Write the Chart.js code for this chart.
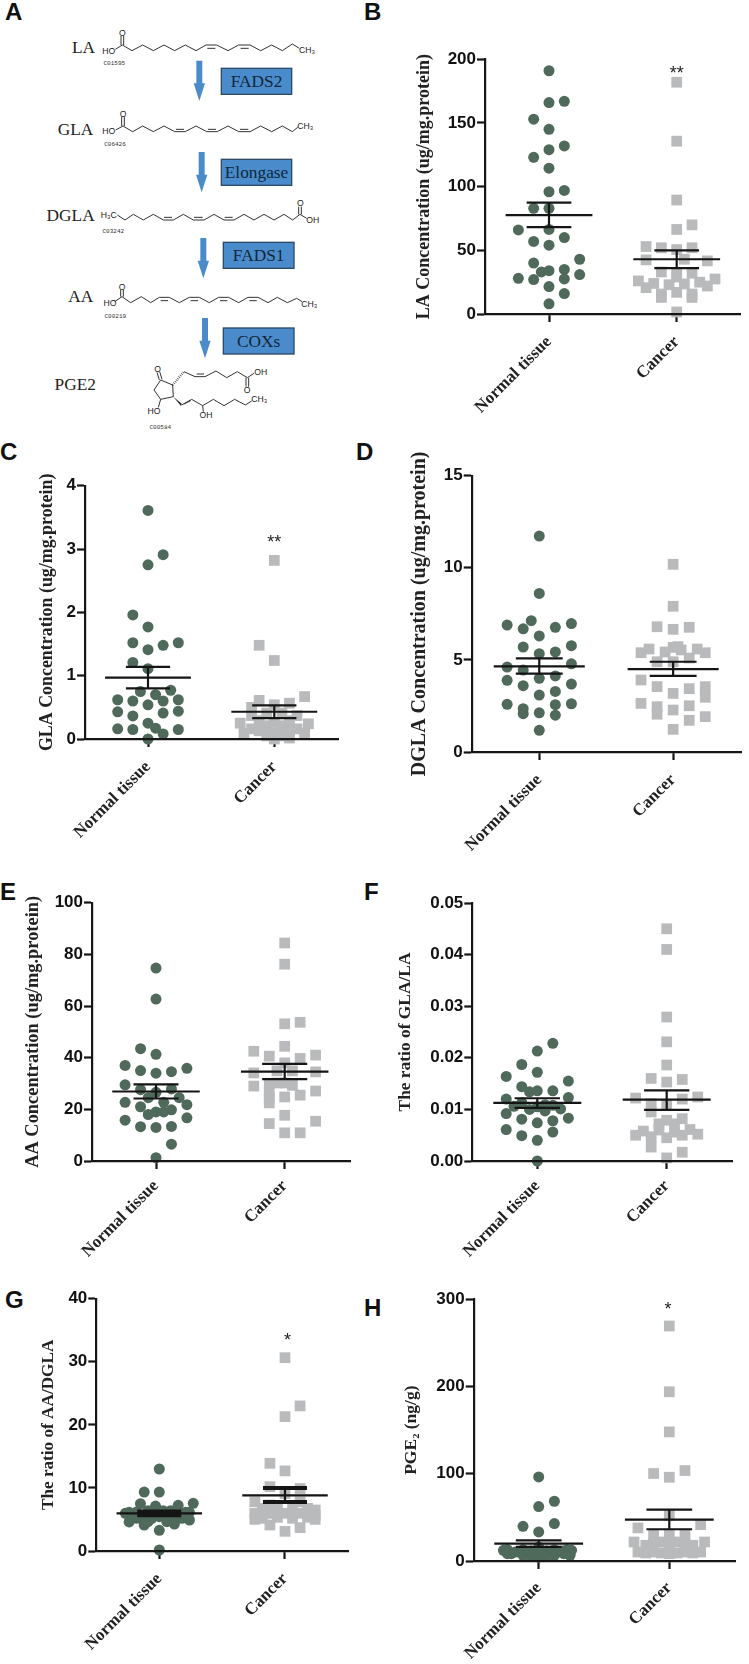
<!DOCTYPE html>
<html><head><meta charset="utf-8">
<script src="https://cdn.jsdelivr.net/npm/chart.js@4"></script>
<style>
html,body{margin:0;padding:0;background:#fff;width:749px;height:1664px;overflow:hidden}
canvas{position:absolute;display:block}
.letter{position:absolute;font:bold 24px "Liberation Sans",Arial,sans-serif;color:#111;line-height:24px}
svg{position:absolute;left:0;top:0;opacity:.995}
</style></head><body>
<svg id="pathway" width="360" height="440" viewBox="0 0 1080 1320"></svg>
<div class="letter" style="left:5px;top:0px">A</div>
<div class="letter" style="left:364px;top:0px">B</div>
<div class="letter" style="left:0px;top:440px">C</div>
<div class="letter" style="left:356px;top:440px">D</div>
<div class="letter" style="left:0px;top:880px">E</div>
<div class="letter" style="left:364px;top:880px">F</div>
<div class="letter" style="left:5px;top:1288px">G</div>
<div class="letter" style="left:364px;top:1296px">H</div>
<script>
const groupLabels = ['Normal tissue', 'Cancer'];

// B: LA
const laNormal = [191,166,167,153,145,132,129,123,114.5,96,97,83,83,66,66.4,60,57,54,43,40,33,34,35,31,28,27,27.5,21.5,16,8];
const laNormalSlot = [0,0,1,-1,0,1,0,-1,0,0,1,-1,0,-2,0,1,-1,0,2,-1,-.5,0,1,2,-2,-1,1,0,1,0];
const laCancer = [182,135.7,89.5,70,66.4,53,52,50.6,52,42.5,43,41.7,33,31.5,32,29,26,24,23,23.6,25,27.5,20.7,22,15.7,17,13,13,15.7,1.6];
const laCancerSlot = [0,0,0,1,0,-2,-1,0,1,-2,.5,2,-1,0,1,0,-2.5,-1.5,-.5,.5,1.5,2.5,-2,2,-1,0,-1,1,1,0];
const laMean = [77.7,43], laHigh = [87.4,50], laLow = [68.2,36];
const laTicks = [0,50,100,150,200];

// C: GLA
const glaNormal = [3.61,2.91,2.75,1.96,1.77,1.52,1.52,1.48,1.41,1.21,1.11,.75,.77,.70,.62,.60,.60,.62,.54,.43,.44,.41,.365,.25,.17,.16,.15,.15,.08,0];
const glaNormalSlot = [0,1,0,-1,0,-1,2,1,0,-1,0,-.5,1.5,.5,-2,-1,1,2,0,-2,2,1,-1,0,.5,-2,-1,2,1,0];
const glaCancer = [2.82,1.48,1.24,.67,.61,.54,.565,.50,.25,.24,.41,.41,.37,.37,.29,.29,.26,.21,.21,.09,.09,.16,.16,.13,.13,.09,.05,.05,.015,0];
const glaCancerSlot = [0,-1,0,2,-1,0,1,-1.5,-2.25,2.25,-.5,.5,-1.5,1.5,-1,1,0,-.5,.5,-2,2,-1.5,1.5,-1,1,0,-.5,.5,1,0];
const glaMean = [.97,.43], glaHigh = [1.14,.53], glaLow = [.80,.33];
const glaTicks = [0,1,2,3,4];

// D: DGLA
const dglaNormal = [11.72,8.61,7.13,6.89,6.97,6.69,6.77,6.30,5.70,5.77,5.34,5.43,4.79,4.61,4.45,4.0,4.13,3.89,3.6,3.69,3.29,3.09,2.59,2.62,2.57,2.35,2.08,2.13,2.0,1.18];
const dglaNormalSlot = [0,0,-.5,-2,2,-1,1,0,-1,2,0,1,2,-2,-1,0,1,-2,-1,2,1,0,-2,2,1,-1,-1,0,1,0];
const dglaCancer = [10.19,7.91,6.8,6.77,6.66,5.59,5.39,5.43,5.68,5.72,5.54,5.59,5.39,5.1,4.9,4.9,3.91,3.55,3.44,3.18,3.55,2.97,2.64,2.51,2.46,2.28,2.05,1.92,1.72,1.23];
const dglaCancerSlot = [0,0,-1,1,0,-1.5,-2,-.5,0,.3,.5,1.5,2,1,-1,0,-2,-1,1,0,2,2,-2,1,-1,0,-1,2,1,0];
const dglaMean = [4.65,4.5], dglaHigh = [5.08,4.9], dglaLow = [4.25,4.13];
const dglaTicks = [0,5,10,15];

// E: AA
const aaNormal = [74.7,62.7,43.5,41.3,37,35.9,35,34.6,34,29.5,27.6,27.9,26.6,24.5,24.5,22.7,22.7,21.8,21,19.8,19,19,18,15.8,16.7,13.3,13,13.4,6.5,1.3];
const aaNormalSlot = [0,0,-1,0,-2,2,-1,1,0,-2,-1,1,0,-.5,1.5,-2,.5,2,-1,1,0,.5,-.5,-2,2,-1,0,1,1,0];
const aaCancer = [84.4,76.2,53.1,53.7,44.4,42.5,41,40.6,39.7,38,34.1,34.5,34.9,34.9,29,30,30.2,30.2,29.3,27.1,26.7,25.5,24.8,24.5,22.5,17.7,14.5,15.4,10.9,10.9];
const aaCancerSlot = [0,0,0,1,0,-2,2,-1,1,0,-2,2,-.5,.5,-2,-1,0,-.5,.5,2,-1,1,0,-1,-1,0,-1,2,0,1];
const aaMean = [26.9,34.6], aaHigh = [29.7,37.6], aaLow = [24.2,31.7];
const aaTicks = [0,20,40,60,80,100];

// F: GLA/LA
const ratioGlaNormal = [.0228,.0213,.0187,.0172,.0164,.0155,.0144,.0134,.0136,.0136,.0123,.012,.0113,.0109,.0108,.0106,.0105,.01,.0097,.0101,.0092,.0081,.0083,.0078,.0074,.0061,.0056,.0049,.004,0];
const ratioGlaNormalSlot = [1,0,-1,0,-2,2,-1,-.5,0,1,2,-2,-1,.5,1,-1.5,0,-.5,.5,1.5,-2,-1,2,1,0,-2,1,-1,0,0];
const ratioGlaCancer = [.045,.041,.0279,.0231,.0186,.016,.0158,.0153,.0122,.0124,.0111,.012,.0108,.0095,.0082,.0079,.0072,.0072,.0058,.006,.0061,.005,.0052,.0047,.0045,.005,.0056,.0027,.0017,.0006];
const ratioGlaCancerSlot = [0,0,0,0,0,-1,1,0,-2,2,-1,1,0,-1,1,0,-.5,.5,-1.5,-.5,1.5,-2,2,-1,0,1,.5,-1,1,0];
const ratioGlaMean = [.01125,.0119], ratioGlaHigh = [.01216,.0137], ratioGlaLow = [.01028,.0099];
const ratioGlaTicks = [0,.01,.02,.03,.04,.05];

// G: AA/DGLA
const ratioAaNormal = [13,9.35,9.35,7.56,7.5,7.24,7.13,6.13,6.2,6.4,6.4,6.4,6.13,6.13,4.6,4.12,4.91,4.28,5.18,5.18,5.18,5.18,5.44,5.44,5.44,3.28,.16,5.97,4.65,4.65];
const ratioAaNormalSlot = [0,-1,0,2.25,-1.25,1.25,-.25,-2,-1.5,-.75,.25,.75,1.75,2,-2,-1,2,1,-1.5,-.5,.5,1.5,0,-1,1,0,0,-2.25,-.75,.5];
const ratioAaCancer = [30.65,23,21.3,13.9,12.7,10.2,9.9,9.1,7.8,7.3,7.8,6.76,6.76,6.76,6.76,6.5,5.97,5.97,5.97,5.97,5.7,5.18,5.34,5.18,5.34,5.02,5.02,4.12,3.7,3.12];
const ratioAaCancerSlot = [0,1,0,-1,0,-1,1,0,-2,-1,1,-1.5,-.5,.5,1.5,2,-2,-1,0,1,2,-1.5,-.5,.5,1.5,-2,2,-1,1,0];
const ratioAaMean = [5.97,8.82], ratioAaHigh = [6.25,9.99], ratioAaLow = [5.7,7.77];
const ratioAaTicks = [0,10,20,30,40];

// H: PGE2
const pgeNormal = [96.4,68.5,62.4,42.9,39.8,33.3,12.2,12.2,8.4,8.4,10.3,6.5,11.5,12.2,11.5,6.5,10.3,8.4,6.5,10.3,11.5,4.6,13,13,5.4,5.4,16,13,13,9.2];
const pgeNormalSlot = [0,1,0,1,-1,0,-2.25,2.1,-1.75,1.6,-1.25,-1,-.5,0,.5,1,1.25,-2,2,-1.5,1.5,0,-1,1,-.5,.5,0,-2,1.8,0];
const pgeCancer = [269.4,194,148,103.7,100.3,96,52.4,37.9,41.7,29.5,29.5,29.5,21.8,21.8,21.8,21.8,18,18,19.9,19.9,19.9,10.3,10.3,10.3,10.3,9.2,9.2,9.2,9.2,8.4];
const pgeCancerSlot = [0,0,0,1,-1,0,0,-2,2,-1,1,0,-2.25,2.25,-.5,.5,-1.5,1.5,-1,1,0,-2,2,-1,1,-1.5,-.5,.5,1.5,0];
const pgeMean = [19.9,47.5], pgeHigh = [23.7,58.9], pgeLow = [16.1,36.4];
const pgeTicks = [0,100,200,300];

const COL_NORMAL = '#4f6a5b', COL_CANCER = '#b9babc', INK = '#151515';
const SLOT = 0.12, MEAN_HALF = 0.34, CAP_HALF = 0.175;
const SERIF = '"Liberation Serif","Times New Roman",serif', SANS = '"Liberation Sans",Arial,sans-serif';

Chart.defaults.animation = false;

const stars = {
  id: 'stars',
  afterDatasetsDraw(chart, _a, o) {
    if (!o.text) return;
    const c = chart.ctx;
    c.save();
    c.font = '18px ' + SANS;
    c.fillStyle = '#222';
    c.textAlign = 'center';
    c.textBaseline = 'alphabetic';
    c.fillText(o.text, chart.scales.x.getPixelForValue(o.x), chart.scales.y.getPixelForValue(o.y) + 10);
    c.restore();
  }
};

function swarm(center, values, slots) {
  return values.map((v, i) => ({x: center + slots[i] * SLOT, y: v}));
}
function segments(list) {
  const out = [];
  list.forEach(s => { out.push(s[0], s[1], {x: NaN, y: NaN}); });
  return out;
}

function panel(g, d) {
  const cv = document.createElement('canvas');
  const cLeft = Math.floor(g.titleX - 0.6 * g.titleSize), cTop = Math.floor(g.top) - 40, cRight = 749;
  const xH = g.xH || 118, W = cRight - cLeft, H = Math.ceil(g.bottom + xH) - cTop;
  cv.width = W; cv.height = H;
  cv.style.left = cLeft + 'px'; cv.style.top = cTop + 'px';
  document.body.appendChild(cv);
  const unit = g.t2 - g.t1;
  const xMin = 1 - (g.t1 - g.axisX) / unit, xMax = 2 + (g.right - g.t2) / unit;
  const means = segments([1,2].map(c => [{x:c-MEAN_HALF,y:d.mean[c-1]},{x:c+MEAN_HALF,y:d.mean[c-1]}]));
  const caps = segments([1,2].flatMap(c => [
    [{x:c-CAP_HALF,y:d.high[c-1]},{x:c+CAP_HALF,y:d.high[c-1]}],
    [{x:c-CAP_HALF,y:d.low[c-1]},{x:c+CAP_HALF,y:d.low[c-1]}]]));
  const stems = segments([1,2].map(c => [{x:c,y:d.low[c-1]},{x:c,y:d.high[c-1]}]));
  const lineDs = (data, w) => ({data, showLine:true, borderColor:INK, borderWidth:w, pointRadius:0, clip:false, spanGaps:false, borderCapStyle:'butt'});
  new Chart(cv, {
    type: 'scatter',
    data: {datasets: [
      lineDs(means, 2.2), lineDs(caps, g.capW || 2.2), lineDs(stems, 2.2),
      {data: swarm(1, d.normal, d.normalSlot), pointStyle:'circle', pointRadius:5.5, backgroundColor:COL_NORMAL, borderWidth:0, clip:false},
      {data: swarm(2, d.cancer, d.cancerSlot), pointStyle:'rect', pointRadius:7.6, backgroundColor:COL_CANCER, borderWidth:0, clip:false}
    ]},
    plugins: [stars],
    options: {
      responsive:false, animation:false, devicePixelRatio:1,
      layout:{padding:{top:g.top-cTop, right:cRight-g.right, left:0, bottom:0}},
      plugins:{legend:{display:false}, tooltip:{enabled:false}, stars:d.star||{}},
      events:[],
      scales:{
        x:{type:'linear', min:xMin, max:xMax,
          afterBuildTicks(s){ s.ticks=[{value:1},{value:2}]; },
          afterFit(s){ s.height=xH; },
          border:{display:true,width:2.2,color:INK,z:1},
          grid:{drawOnChartArea:false,drawTicks:true,tickLength:8,tickWidth:2.2,tickColor:INK},
          ticks:{autoSkip:false,minRotation:45,maxRotation:45,padding:g.xPad||10,color:'#222',
            font:{family:SERIF,weight:'bold',size:g.xSize||17},
            callback:v=>groupLabels[v-1]}
        },
        y:{type:'linear', min:d.ticks[0], max:d.ticks[d.ticks.length-1],
          afterBuildTicks(s){ s.ticks=d.ticks.map(v=>({value:v})); },
          afterFit(s){ s.width=g.axisX-cLeft; },
          border:{display:true,width:2.2,color:INK,z:1},
          grid:{drawOnChartArea:false,drawTicks:true,tickLength:8,tickWidth:2.2,tickColor:INK},
          ticks:{padding:1,color:'#111',font:{family:SANS,weight:'bold',size:g.tickSize||17},
            callback:v=>d.dec?v.toFixed(d.dec):String(v)},
          title:{display:true,text:d.title,color:'#222',padding:0,
            font:{family:SERIF,weight:'bold',size:g.titleSize}}
        }
      }
    }
  });
}

panel({axisX:485,right:740.7,top:59.3,bottom:313.3,t1:549,t2:676.7,titleX:425,titleSize:18},
 {normal:laNormal,normalSlot:laNormalSlot,cancer:laCancer,cancerSlot:laCancerSlot,mean:laMean,high:laHigh,low:laLow,ticks:laTicks,
  title:'LA Concentration (ug/mg.protein)',star:{text:'**',x:2,y:192}});
panel({axisX:85,right:338,top:485.7,bottom:738.3,t1:148,t2:274.3,titleX:48,titleSize:17.9},
 {normal:glaNormal,normalSlot:glaNormalSlot,cancer:glaCancer,cancerSlot:glaCancerSlot,mean:glaMean,high:glaHigh,low:glaLow,ticks:glaTicks,
  title:'GLA Concentration (ug/mg.protein)',star:{text:'**',x:2,y:3.17}});
panel({axisX:471.7,right:748.3,top:475.7,bottom:752,t1:541,t2:678.3,titleX:420,titleSize:20},
 {normal:dglaNormal,normalSlot:dglaNormalSlot,cancer:dglaCancer,cancerSlot:dglaCancerSlot,mean:dglaMean,high:dglaHigh,low:dglaLow,ticks:dglaTicks,
  title:'DGLA Concentration (ug/mg.protein)'});
panel({axisX:92,right:350,top:902.7,bottom:1160.7,t1:156,t2:284.7,titleX:34,titleSize:18.4,xPad:7},
 {normal:aaNormal,normalSlot:aaNormalSlot,cancer:aaCancer,cancerSlot:aaCancerSlot,mean:aaMean,high:aaHigh,low:aaLow,ticks:aaTicks,
  title:'AA Concentration (ug/mg.protein)'});
panel({axisX:472.3,right:732.3,top:903,bottom:1160.7,t1:537.3,t2:666.7,titleX:406,titleSize:17.4,xPad:7},
 {normal:ratioGlaNormal,normalSlot:ratioGlaNormalSlot,cancer:ratioGlaCancer,cancerSlot:ratioGlaCancerSlot,mean:ratioGlaMean,high:ratioGlaHigh,low:ratioGlaLow,ticks:ratioGlaTicks,dec:2,
  title:'The ratio of GLA/LA'});
panel({axisX:96.3,right:348.3,top:1298.7,bottom:1551,t1:159.3,t2:285,titleX:49,titleSize:17.2,capW:4.2},
 {normal:ratioAaNormal,normalSlot:ratioAaNormalSlot,cancer:ratioAaCancer,cancerSlot:ratioAaCancerSlot,mean:ratioAaMean,high:ratioAaHigh,low:ratioAaLow,ticks:ratioAaTicks,
  title:'The ratio of AA/DGLA',star:{text:'*',x:2.02,y:34.1}});
panel({axisX:473.7,right:735.7,top:1299.3,bottom:1560.7,t1:538.7,t2:669.3,titleX:411.7,titleSize:17.5,xPad:9},
 {normal:pgeNormal,normalSlot:pgeNormalSlot,cancer:pgeCancer,cancerSlot:pgeCancerSlot,mean:pgeMean,high:pgeHigh,low:pgeLow,ticks:pgeTicks,
  title:'PGE\u2082 (ng/g)',star:{text:'*',x:1.99,y:293}});

// Panel A: metabolic pathway schematic, drawn in a 1080x1320 viewBox
const chains = [
 '367,135 396,152 428,135 460,152 492,135 524,152 556,135 588,152 618,135 650,135 684,152 716,135 750,135 782,152 815,135 847,152 877,132 898,145',
 '369,378 398,395 428,378 460,395 492,378 524,395 556,395 588,378 620,395 652,395 684,378 716,395 750,395 782,378 815,395 847,378 877,395 893,382',
 '352,645 375,660 400,643 430,660 460,643 490,660 520,660 550,643 580,660 612,660 642,643 672,660 702,660 732,643 762,660 792,643 822,660 852,643 878,660 900,643 920,655',
 '366,890 392,908 424,890 452,908 478,892 508,892 538,908 568,892 598,892 628,908 656,892 686,892 716,908 744,892 774,892 804,908 832,892 862,908 890,895 906,905',
 '482,1140 518,1155 520,1190 482,1198 462,1170 482,1140',
 '552,1115 585,1130 615,1130 648,1113 680,1133 712,1115 742,1133 762,1120',
 '545,1215 575,1198 608,1217 640,1198 672,1217 704,1198 736,1215 755,1203'
];
const bonds = [[346,148,367,135],[363,135,363,108],[371,135,371,108],[622,145,646,145],[722,145,746,145],
 [347,390,369,378],[365,378,365,350],[373,378,373,350],[528,388,552,388],[624,388,648,388],[720,388,745,388],
 [492,652,516,652],[582,652,608,652],[674,652,698,652],[896,643,896,620],[904,643,904,620],
 [344,905,366,890],[362,890,362,870],[370,890,370,870],[482,902,504,902],[572,902,594,902],[660,902,682,902],[748,902,770,902],
 [478,1140,471,1117],[486,1138,479,1115],[590,1122,612,1122],[738,1133,738,1160],[746,1133,746,1160],[552,1212,572,1202],[608,1217,610,1235],[482,1198,475,1222]];
const atoms = [['HO',326,161,26],['O',367,109,26],['CH\u2083',921,159,26],['HO',326,403,26],['O',369,351,26],['CH\u2083',916,386,26],
 ['H\u2083C',326,653,26],['O',901,619,26],['OH',938,668,26],['HO',330,919,26],['O',366,870,26],['CH\u2083',928,920,26],
 ['O',473,1117,26],['OH',782,1124,26],['O',741,1179,26],['CH\u2083',778,1205,26],['OH',618,1255,26],['HO',462,1243,26]];
const codes = [['C01595',343,196],['C06426',345,437],['C03242',340,698],['C00219',346,954],['C00584',481,1288]];
const names = [['LA',285,160],['GLA',280,405],['DGLA',284,662],['AA',280,905],['PGE2',288,1170]];
const enzymes = [['FADS2',664,205,211,78],['Elongase',664,478,211,78],['FADS1',670,727,212,78],['COXs',670,984,212,78]];
const arrows = [[598,182,303],[605,456,577],[610,714,835],[615,954,1075]];
let s = '';
chains.forEach(p => s += `<polyline points="${p}" fill="none" stroke="#333" stroke-width="3"/>`);
bonds.forEach(b => s += `<line x1="${b[0]}" y1="${b[1]}" x2="${b[2]}" y2="${b[3]}" stroke="#333" stroke-width="3"/>`);
s += '<polygon points="520,1190 545,1211 543,1218" fill="#222"/>';
s += '<line x1="518" y1="1155" x2="552" y2="1115" stroke="#333" stroke-width="7" stroke-dasharray="2 4"/>';
atoms.forEach(a => s += `<text x="${a[1]}" y="${a[2]}" text-anchor="middle" font-family="Liberation Sans" font-size="${a[3]}" fill="#222">${a[0]}</text>`);
codes.forEach(c => s += `<text x="${c[1]}" y="${c[2]}" text-anchor="middle" font-family="Liberation Mono" font-size="18" fill="#333">${c[0]}</text>`);
names.forEach(n => s += `<text x="${n[1]}" y="${n[2]}" text-anchor="end" font-family="Liberation Serif" font-size="52" fill="#222">${n[0]}</text>`);
enzymes.forEach(e => {
  s += `<rect x="${e[1]}" y="${e[2]}" width="${e[3]}" height="${e[4]}" fill="#4a8ccb" stroke="#2d4a66" stroke-width="4"/>`;
  s += `<text x="${e[1]+e[3]/2}" y="${e[2]+e[4]/2+17}" text-anchor="middle" font-family="Liberation Serif" font-size="52" fill="#12263a">${e[0]}</text>`;
});
arrows.forEach(a => {
  const x=a[0], t=a[1], b=a[2], h=b-53;
  s += `<polygon points="${x-9},${t} ${x+9},${t} ${x+9},${h} ${x+17},${h} ${x},${b} ${x-17},${h} ${x-9},${h}" fill="#4a8ccb"/>`;
});
document.getElementById('pathway').innerHTML = s;
</script>
</body></html>
